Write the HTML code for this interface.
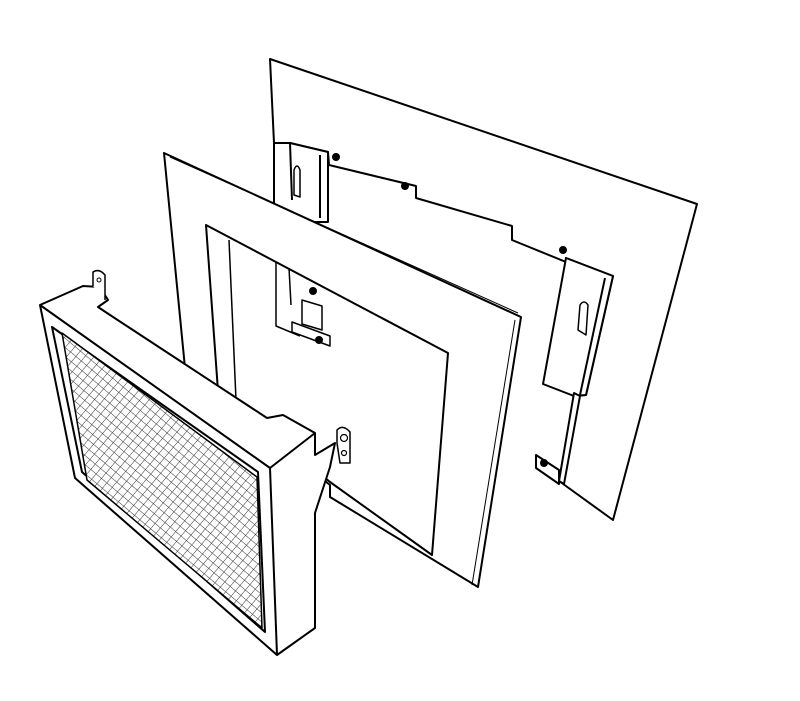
<!DOCTYPE html>
<html><head><meta charset="utf-8"><style>html,body{margin:0;padding:0;background:#fff}svg{display:block}</style></head>
<body>
<svg width="800" height="701" viewBox="0 0 800 701" xmlns="http://www.w3.org/2000/svg">
<defs>
<pattern id="mesh" width="7" height="7" patternUnits="userSpaceOnUse" patternTransform="rotate(40)">
<rect width="7" height="7" fill="#fff"/>
<path d="M0 0H7M0 0V7" stroke="#333" stroke-width="1" fill="none"/>
</pattern>
</defs>
<g fill="#fff" stroke="#000" stroke-width="2" stroke-linejoin="round">
<polygon points="270,59 697,204 613,520 559,481 574,396 586,395 613,276 566,258 566,262 512,240 512,226 416,198 416,186 329,165 328,152 290,143 274,143"/>
<polygon points="274,143 290,143 328,152 328,222 274,222"/>
<line x1="290" y1="143" x2="292" y2="200"/>
<line x1="320" y1="155" x2="320" y2="218"/>
<path d="M294,195 V170 q3,-8 6,0 V197 Z" stroke-width="1.5"/>
<circle cx="336" cy="157" r="3" fill="#000"/>
<circle cx="405" cy="186" r="3" fill="#000"/>
<polygon points="566,258 613,276 586,395 574,396 543,384"/>
<line x1="605" y1="278" x2="580" y2="395"/>
<path d="M578,330 L580,305 q4,-6 8,0 L586,335 Z" stroke-width="1.5"/>
<polygon points="574,393 580,396 564,484 559,481" />
<polygon points="536,455 559,470 559,484 536,468"/>
<circle cx="544" cy="463" r="3" fill="#000"/>
<circle cx="563" cy="250" r="3" fill="#000"/>
<polygon points="164,153 521,317 478,587 330,497 330,485 185,368"/>
<line x1="170" y1="157" x2="518" y2="313" stroke-width="1"/>
<line x1="515" y1="320" x2="472" y2="585" stroke-width="1"/>
<polygon points="206,225 448,353 432,555 330,482 232,400 218,391"/>
<line x1="229" y1="240" x2="236" y2="400" stroke-width="1.5"/>
<polyline points="276,262 276,326 300,336" fill="none" stroke-width="1.5"/>
<polyline points="289,268 291,305" fill="none" stroke-width="1.5"/>
<polygon points="302,300 322,306 322,330 302,324" stroke-width="1.5"/>
<polygon points="292,322 330,336 330,346 292,332" stroke-width="1.5"/>
<circle cx="313" cy="291" r="3" fill="#000"/>
<circle cx="319" cy="340" r="3" fill="#000"/>
<polygon points="40,305 83,286 100,287 108,300 98,307 107,313 267,418 283,415 315,433 315,455 335,443 330,467 315,513 315,628 277,655 75,478"/>
<polyline points="40,305 270,468 315,433" fill="none"/>
<line x1="270" y1="468" x2="277" y2="655"/>
<polygon points="52,327 258,472 265,632 82,472" stroke-width="2"/>
<polygon points="62,333 257,477 262,628 87,480" fill="url(#mesh)" stroke-width="1.5"/>
<path d="M93,286 V272 q6,-4 12,3 V300" stroke-width="1.5"/>
<circle cx="99" cy="280" r="2" stroke-width="1"/>
<path d="M337,443 V430 q6,-6 13,2 V463 H340 Z" stroke-width="1.5"/>
<circle cx="344" cy="438" r="3.5" stroke-width="1.2"/>
<circle cx="344" cy="453" r="2.5" stroke-width="1.2"/>
</g>
</svg>
</body></html>
